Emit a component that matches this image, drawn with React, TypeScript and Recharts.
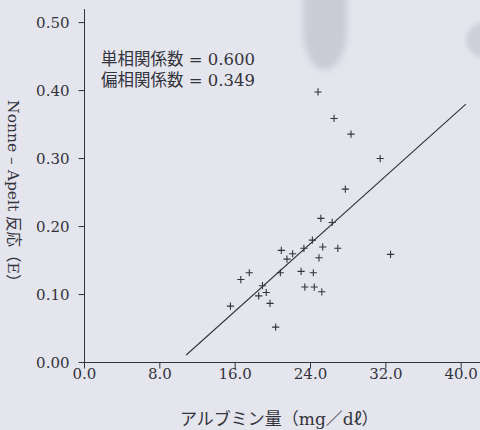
import React from 'react';
import { ScatterChart, Scatter, XAxis, YAxis, ReferenceLine } from 'recharts';

const albumin = [24.8, 26.5, 28.3, 31.4, 27.7, 25.1, 26.3, 24.2, 23.3, 25.3, 26.9, 32.5, 20.9, 21.5, 22.1, 24.9, 17.5, 16.6, 20.8, 23.0, 24.3, 18.9, 19.3, 18.5, 23.4, 24.4, 25.2, 19.7, 15.5, 20.3];
const nonneApelt = [0.398, 0.359, 0.336, 0.300, 0.255, 0.212, 0.206, 0.180, 0.168, 0.170, 0.168, 0.159, 0.165, 0.152, 0.160, 0.154, 0.132, 0.122, 0.132, 0.134, 0.132, 0.113, 0.103, 0.098, 0.111, 0.111, 0.104, 0.087, 0.083, 0.052];
const xTicks = [0, 8, 16, 24, 32, 40];
const yTicks = [0, 0.1, 0.2, 0.3, 0.4, 0.5];
const fitStart = { x: 10.8, y: 0.011 };
const fitEnd = { x: 40.5, y: 0.38 };
const annotations = ['単相関係数 = 0.600', '偏相関係数 = 0.349'];
const xTitle = 'アルブミン量（mg／dℓ）';
const yTitle = 'Nonne – Apelt 反応（E）';

const data = albumin.map((x, i) => ({ x, y: nonneApelt[i] }));

const INK = '#33333c';
const SERIF = '"DejaVu Serif", "Noto Sans CJK JP", serif';

const Cross = (props: any) => {
  const { cx, cy } = props;
  if (cx == null || cy == null) return null;
  const a = 3.6;
  return (
    <g stroke={INK} strokeWidth={1.1}>
      <line x1={cx - a} y1={cy} x2={cx + a} y2={cy} />
      <line x1={cx} y1={cy - a} x2={cx} y2={cy + a} />
    </g>
  );
};

const YTitle = (props: any) => {
  const vb = props.viewBox || { x: 0, y: 0, width: 0, height: 0 };
  const cx = 13;
  const cy = vb.y + vb.height / 2 + 9;
  return (
    <text x={cx} y={cy} transform={`rotate(90, ${cx}, ${cy})`} textAnchor="middle" dominantBaseline="central"
      fill={INK} fontSize={15.5} fontFamily={SERIF}>{yTitle}</text>
  );
};

const XTitle = (props: any) => {
  const vb = props.viewBox || { x: 0, y: 0, width: 0, height: 0 };
  const cx = vb.x + vb.width / 2 - 3;
  return (
    <text x={cx} y={419} textAnchor="middle" dominantBaseline="central"
      fill={INK} fontSize={17} fontFamily={SERIF}>{xTitle}</text>
  );
};

export default function App() {
  return (
    <div style={{ position: 'absolute', left: 0, top: 0, width: 480, height: 430, background: '#e5e5ee', overflow: 'hidden' }}>
      <div style={{ position: 'absolute', left: 303, top: -20, width: 44, height: 90, borderRadius: '22px 22px 22px 22px / 20px 20px 40px 40px', background: '#cbcbd6', filter: 'blur(3px)' }} />
      <div style={{ position: 'absolute', left: 466, top: 22, width: 40, height: 36, borderRadius: '50%', background: '#cfcfda', filter: 'blur(2px)' }} />
      <div style={{ position: 'absolute', left: 0, top: 0 }}>
        <ScatterChart width={480} height={430} margin={{ top: 9, right: 0, bottom: 0, left: 0 }}>
          <XAxis type="number" dataKey="x" domain={[0, 42]} ticks={xTicks} allowDataOverflow
            tickFormatter={(v: number) => v.toFixed(1)} height={67.5} tickSize={6} tickMargin={0}
            stroke={INK} tick={{ fill: INK, fontSize: 15, fontFamily: SERIF }}
            label={<XTitle />} />
          <YAxis type="number" dataKey="y" domain={[0, 0.52]} ticks={yTicks} allowDataOverflow
            tickFormatter={(v: number) => v.toFixed(2)} width={84.5} tickSize={6} tickMargin={9}
            stroke={INK} tick={{ fill: INK, fontSize: 15, fontFamily: SERIF }}
            label={<YTitle />} />
          <ReferenceLine segment={[fitStart, fitEnd]} stroke={INK} strokeWidth={1.1} ifOverflow="visible" />
          <Scatter data={data} shape={<Cross />} isAnimationActive={false} />
        </ScatterChart>
      </div>
      <div style={{ position: 'absolute', left: 101, top: 49, fontFamily: SERIF, fontSize: 16.5, color: INK, lineHeight: '21px', whiteSpace: 'pre' }}>
        {annotations.map((t, i) => <div key={i}>{t}</div>)}
      </div>
    </div>
  );
}
